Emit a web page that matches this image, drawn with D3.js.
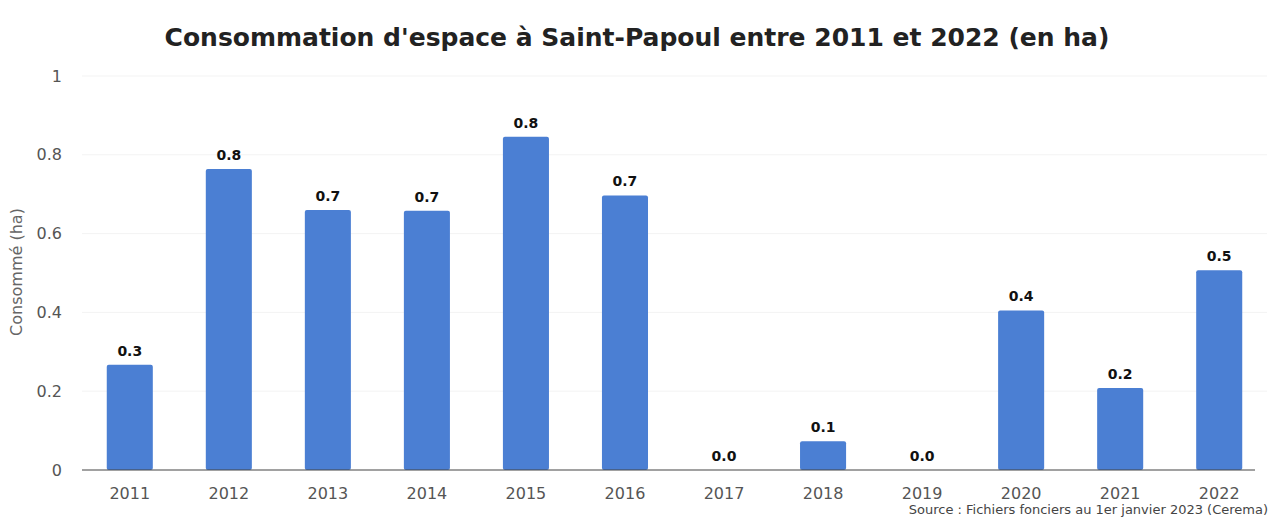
<!DOCTYPE html>
<html>
<head>
<meta charset="utf-8">
<script src="https://cdn.jsdelivr.net/npm/d3@7"></script>
<style>
  html, body { margin: 0; padding: 0; background: #fff; }
  svg { display: block; }
  text { font-family: "DejaVu Sans", Verdana, sans-serif; }
</style>
</head>
<body>
<svg id="chart" width="1271" height="517"></svg>
<script>
const years = ["2011","2012","2013","2014","2015","2016","2017","2018","2019","2020","2021","2022"];
const values = [0.267, 0.764, 0.66, 0.658, 0.846, 0.697, 0.0, 0.073, 0.0, 0.405, 0.208, 0.507];
const yTicks = [0, 0.2, 0.4, 0.6, 0.8, 1];
const titleText = "Consommation d'espace à Saint-Papoul entre 2011 et 2022 (en ha)";
const yLabel = "Consommé (ha)";
const sourceText = "Source : Fichiers fonciers au 1er janvier 2023 (Cerema)";

const svg = d3.select("#chart");
const W = 1271, H = 517;
const m = { left: 82, right: 4, top: 76, bottom: 47 };

const x = d3.scaleBand().domain(years).range([m.left, W - m.right]).paddingInner(0.535).paddingOuter(0.25);
const y = d3.scaleLinear().domain([0, 1]).range([H - m.bottom, m.top]);

// grid
svg.append("g").selectAll("line").data(yTicks.filter(d => d > 0)).join("line")
  .attr("x1", m.left).attr("x2", W - m.right)
  .attr("y1", d => y(d)).attr("y2", d => y(d))
  .attr("stroke", "#f3f3f3").attr("stroke-width", 1);

// y axis
const yAxis = svg.append("g").attr("transform", `translate(${m.left},0)`)
  .call(d3.axisLeft(y).tickValues(yTicks).tickSize(0).tickPadding(20).tickFormat(d => d === 0 ? "0" : d === 1 ? "1" : d3.format(".1f")(d)));
yAxis.select(".domain").remove();
yAxis.selectAll("text").attr("font-size", 16).attr("fill", "#555").attr("font-family", "DejaVu Sans");

// bars
svg.append("g").selectAll("rect").data(values).join("rect")
  .attr("x", (d, i) => x(years[i]))
  .attr("width", x.bandwidth())
  .attr("y", d => y(d))
  .attr("height", d => y(0) - y(d))
  .attr("rx", 2)
  .attr("fill", "#4b7fd3");

// baseline
svg.append("line")
  .attr("x1", m.left).attr("x2", W - 16)
  .attr("y1", y(0)).attr("y2", y(0))
  .attr("stroke", "#444").attr("stroke-width", 1.2);

// x axis
const xAxis = svg.append("g").attr("transform", `translate(0,${y(0)})`)
  .call(d3.axisBottom(x).tickSize(0).tickPadding(18));
xAxis.select(".domain").remove();
xAxis.selectAll("text").attr("font-size", 16).attr("fill", "#555").attr("font-family", "DejaVu Sans");

// value labels
svg.append("g").selectAll("text").data(values).join("text")
  .attr("x", (d, i) => x(years[i]) + x.bandwidth() / 2)
  .attr("y", d => y(d) - 9)
  .attr("text-anchor", "middle")
  .attr("font-size", 14).attr("font-weight", "bold").attr("fill", "#111")
  .text(d => d.toFixed(1));

// title
svg.append("text").attr("x", 637).attr("y", 46).attr("text-anchor", "middle")
  .attr("font-size", 25).attr("font-weight", "bold").attr("fill", "#222")
  .text(titleText);

// y label
svg.append("text").attr("transform", `translate(22,272) rotate(-90)`).attr("text-anchor", "middle")
  .attr("font-size", 16).attr("fill", "#666").text(yLabel);

// source
svg.append("text").attr("x", 1268).attr("y", 514).attr("text-anchor", "end")
  .attr("font-size", 13).attr("fill", "#444").text(sourceText);
</script>
</body>
</html>
